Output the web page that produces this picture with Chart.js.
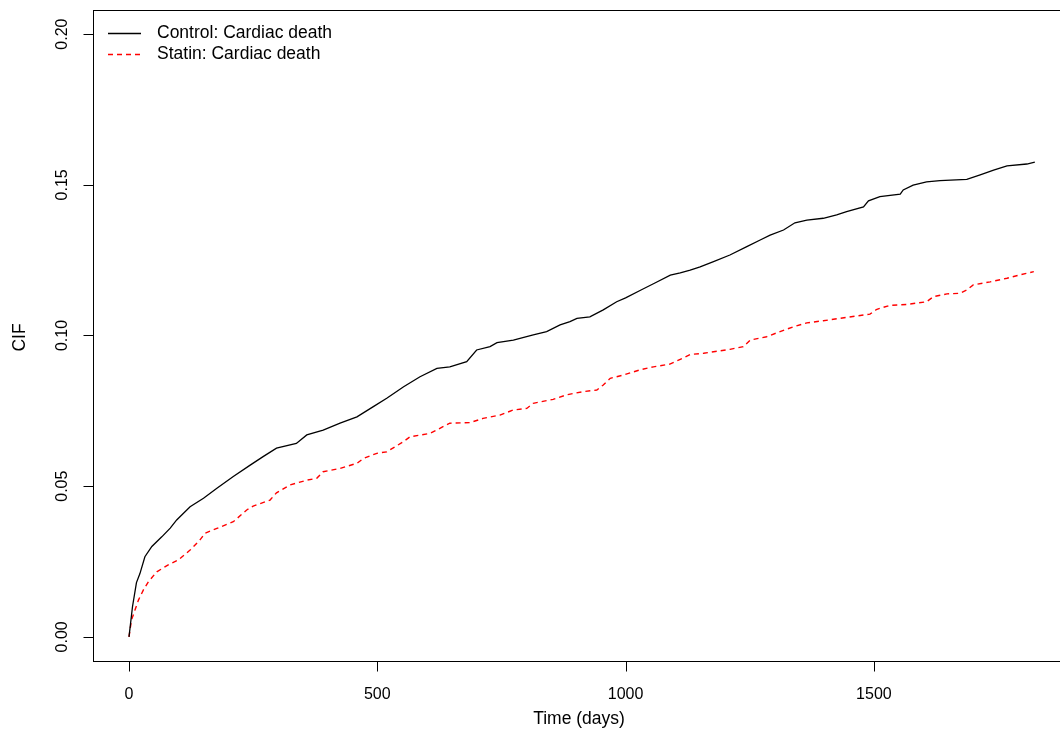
<!DOCTYPE html>
<html lang="en">
<head>
  <meta charset="UTF-8">
  <title>CIF: Cardiac death</title>
  <script src="https://cdnjs.cloudflare.com/ajax/libs/Chart.js/4.4.0/chart.umd.min.js"></script>
  <style>
    html, body { margin: 0; padding: 0; background: #fff; overflow: hidden; }
    #wrap { width: 1060px; height: 731px; }
  </style>
</head>
<body>
  <div id="wrap">
    <canvas id="cifChart" width="1060" height="731"></canvas>
  </div>

  <script>
    // Data
    const controlTime = [0,7,15,22,32,46,66,83,96,123,150,177,210,244,270,297,337,358,391,425,459,492,519,553,586,620,646,680,700,727,741,774,814,841,868,888,902,928,955,982,1000,1030,1060,1090,1110,1130,1150,1177,1210,1244,1271,1291,1318,1341,1365,1398,1425,1445,1479,1489,1512,1553,1559,1579,1606,1633,1687,1714,1741,1768,1808,1824];
    const controlCif = [0,0.010,0.018,0.021,0.0266,0.030,0.0332,0.0361,0.0388,0.0432,0.046,0.0493,0.0532,0.057,0.0598,0.0626,0.0642,0.067,0.0686,0.0709,0.073,0.0764,0.0792,0.083,0.0863,0.0891,0.0896,0.0913,0.0952,0.0963,0.0976,0.0985,0.1002,0.1013,0.1035,0.1046,0.1057,0.1062,0.1085,0.1112,0.1125,0.115,0.1175,0.120,0.1208,0.1217,0.1228,0.1245,0.1267,0.1295,0.1317,0.1333,0.135,0.1374,0.1383,0.1389,0.14,0.1411,0.1427,0.1447,0.1461,0.1469,0.1483,0.1499,0.151,0.1514,0.1518,0.1533,0.1549,0.1563,0.1569,0.1575];

    const statinTime = [0,5,12,19,29,39,56,79,99,123,143,153,177,210,237,250,284,297,324,358,378,391,425,459,472,499,519,553,566,606,626,646,687,713,747,774,801,814,854,881,915,942,955,969,996,1029,1056,1089,1110,1130,1157,1177,1210,1237,1251,1284,1311,1338,1365,1398,1432,1466,1492,1506,1532,1566,1606,1620,1647,1673,1687,1700,1734,1768,1794,1822];
    const statinCif = [0,0.0056,0.0089,0.0122,0.0156,0.0183,0.0216,0.0239,0.0255,0.0288,0.0322,0.0344,0.036,0.0382,0.0421,0.0434,0.0454,0.0478,0.0504,0.052,0.0526,0.0548,0.0559,0.0576,0.0592,0.0609,0.0614,0.0648,0.0664,0.0675,0.0692,0.0709,0.0711,0.0725,0.0736,0.0753,0.0758,0.0775,0.0788,0.0803,0.0814,0.0819,0.0836,0.0858,0.0869,0.0886,0.0896,0.0905,0.0921,0.0937,0.0941,0.0946,0.0954,0.0963,0.0985,0.0996,0.1013,0.1029,0.1042,0.1049,0.1057,0.1065,0.1071,0.1087,0.11,0.1103,0.1112,0.1129,0.1138,0.114,0.1151,0.1168,0.1178,0.119,0.1201,0.1212];

    const xTicks = [0, 500, 1000, 1500];
    const yTicks = [0, 0.05, 0.10, 0.15, 0.20];
    const yTickLabels = ['0.00', '0.05', '0.10', '0.15', '0.20'];
    const seriesNames = ['Control: Cardiac death', 'Statin: Cardiac death'];

    const FONT = '17.5px "Liberation Sans", Arial, sans-serif';
    const TICK_FONT = '16px "Liberation Sans", Arial, sans-serif';

    function toPoints(ts, vs) {
      return ts.map((t, i) => ({ x: t, y: vs[i] }));
    }

    // R-style box, axes, labels and legend
    const rAxes = {
      id: 'rAxes',
      afterDraw(chart) {
        const ctx = chart.ctx;
        const a = chart.chartArea;
        const xs = chart.scales.x;
        const ys = chart.scales.y;
        ctx.save();
        ctx.strokeStyle = '#000';
        ctx.fillStyle = '#000';
        ctx.lineWidth = 1;

        // box (right edge falls outside the canvas)
        ctx.strokeRect(Math.round(a.left) + 0.5, Math.round(a.top) + 0.5, 1070 - a.left, Math.round(a.bottom - a.top));

        // x axis ticks
        const by = Math.round(a.bottom) + 0.5;
        ctx.beginPath();
        ctx.moveTo(Math.round(xs.getPixelForValue(xTicks[0])) + 0.5, by);
        ctx.lineTo(Math.round(xs.getPixelForValue(xTicks[xTicks.length - 1])) + 0.5, by);
        xTicks.forEach(v => {
          const px = Math.round(xs.getPixelForValue(v)) + 0.5;
          ctx.moveTo(px, by);
          ctx.lineTo(px, by + 10);
        });
        ctx.stroke();
        ctx.textAlign = 'center';
        ctx.textBaseline = 'middle';
        ctx.font = TICK_FONT;
        xTicks.forEach(v => {
          ctx.fillText(String(v), xs.getPixelForValue(v), 695);
        });
        ctx.font = FONT;
        ctx.fillText('Time (days)', (a.left + 1065) / 2, 719);

        // y axis ticks
        const lx = Math.round(a.left) + 0.5;
        ctx.beginPath();
        ctx.moveTo(lx, Math.round(ys.getPixelForValue(yTicks[0])) + 0.5);
        ctx.lineTo(lx, Math.round(ys.getPixelForValue(yTicks[yTicks.length - 1])) + 0.5);
        yTicks.forEach(v => {
          const py = Math.round(ys.getPixelForValue(v)) + 0.5;
          ctx.moveTo(lx, py);
          ctx.lineTo(lx - 10, py);
        });
        ctx.stroke();
        ctx.font = TICK_FONT;
        yTicks.forEach((v, i) => {
          ctx.save();
          ctx.translate(63, ys.getPixelForValue(v));
          ctx.rotate(-Math.PI / 2);
          ctx.fillText(yTickLabels[i], 0, 0);
          ctx.restore();
        });
        ctx.font = FONT;
        ctx.save();
        ctx.translate(20, (a.top + a.bottom) / 2 + 2);
        ctx.rotate(-Math.PI / 2);
        ctx.fillText('CIF', 0, 0);
        ctx.restore();

        // legend
        const ds = chart.data.datasets;
        ctx.textAlign = 'left';
        [33, 54].forEach((ly, i) => {
          ctx.beginPath();
          ctx.strokeStyle = ds[i].borderColor;
          ctx.lineWidth = ds[i].borderWidth;
          ctx.setLineDash(ds[i].borderDash || []);
          ctx.moveTo(108, ly + 0.5);
          ctx.lineTo(141, ly + 0.5);
          ctx.stroke();
          ctx.setLineDash([]);
          ctx.fillText(seriesNames[i], 157, ly);
        });
        ctx.restore();
      }
    };

    new Chart(document.getElementById('cifChart'), {
      type: 'line',
      data: {
        datasets: [
          {
            label: seriesNames[0],
            data: toPoints(controlTime, controlCif),
            borderColor: '#000000',
            borderWidth: 1.3,
            tension: 0,
            pointRadius: 0,
            fill: false
          },
          {
            label: seriesNames[1],
            data: toPoints(statinTime, statinCif),
            borderColor: '#ff0000',
            borderWidth: 1.4,
            borderDash: [5, 4],
            tension: 0,
            pointRadius: 0,
            fill: false
          }
        ]
      },
      options: {
        responsive: false,
        animation: false,
        layout: { padding: { left: 93, top: 10, right: 0, bottom: 70 } },
        scales: {
          x: { type: 'linear', display: false, min: -72.5, max: 1874.7 },
          y: { type: 'linear', display: false, min: -0.008, max: 0.208 }
        },
        plugins: {
          legend: { display: false },
          tooltip: { enabled: false }
        }
      },
      plugins: [rAxes]
    });
  </script>
</body>
</html>
